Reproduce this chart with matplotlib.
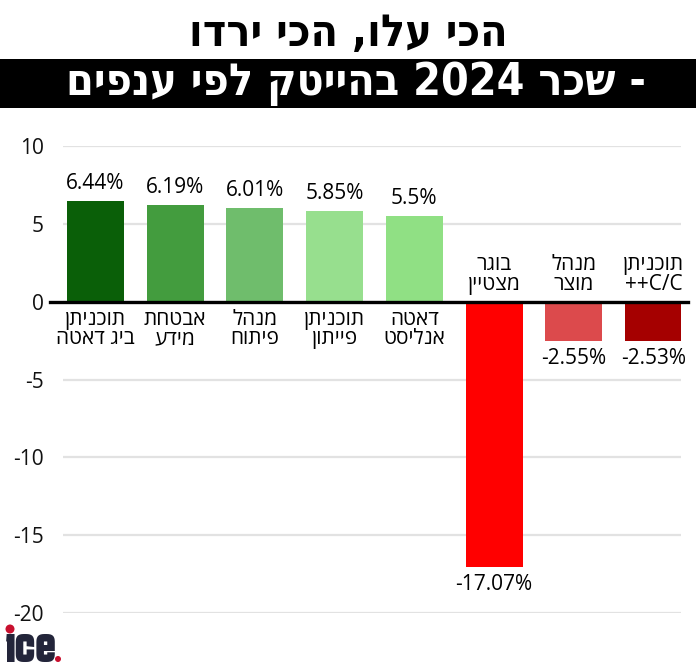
import re

import matplotlib
matplotlib.use("Agg")
import matplotlib.pyplot as plt
from matplotlib.patches import Circle, Rectangle

# data (logical Hebrew order, converted for display below)
categories = [
    "תוכניתן\nביג דאטה",
    "אבטחת\nמידע",
    "מנהל\nפיתוח",
    "תוכניתן\nפייתון",
    "דאטה\nאנליסט",
    "בוגר\nמצטיין",
    "מנהל\nמוצר",
    "תוכניתן\nC/C++",
]
values = [6.44, 6.19, 6.01, 5.85, 5.5, -17.07, -2.55, -2.53]
value_labels = ["6.44%", "6.19%", "6.01%", "5.85%", "5.5%", "-17.07%", "-2.55%", "-2.53%"]
bar_colors = ["#0a5f08", "#439c3e", "#6fbd6c", "#97df8e", "#90e084",
              "#ff0000", "#dc4a4c", "#a50000"]
yticks = [10, 5, 0, -5, -10, -15, -20]

title = "הכי עלו, הכי ירדו"
subtitle = "- שכר 2024 בהייטק לפי ענפים"

BODY = ["Open Sans", "DejaVu Sans"]


def rtl(s):
    """matplotlib has no bidi: reverse each line, keep latin/digit runs LTR."""
    out = []
    for line in s.split("\n"):
        r = line[::-1]
        r = re.sub(r"[A-Za-z0-9]+(?:[./][A-Za-z0-9]+)*", lambda m: m.group(0)[::-1], r)
        out.append(r)
    return "\n".join(out)


W, H = 696, 668
fig = plt.figure(figsize=(W / 100, H / 100), dpi=100)

# pixel overlay for header and logo
ov = fig.add_axes([0, 0, 1, 1])
ov.set_xlim(0, W)
ov.set_ylim(H, 0)
ov.axis("off")

ov.text(348, 34, rtl(title), ha="center", va="center", fontsize=32,
        fontweight="bold", fontstretch="condensed", family="DejaVu Sans", color="black")
ov.add_patch(Rectangle((0, 59), W, 49, color="black", lw=0))
ov.text(356, 84, rtl(subtitle), ha="center", va="center", fontsize=32,
        fontweight="bold", fontstretch="condensed", family="DejaVu Sans", color="white")

# ice. logo
ov.text(5, 662, "ıce", ha="left", va="baseline", fontsize=40, fontweight="bold",
        family=["Karantina", "DejaVu Sans"], color="#23253a")
ov.add_patch(Circle((10, 629), 4.5, color="#c8102e", lw=0))
ov.add_patch(Circle((58, 659), 3, color="#c8102e", lw=0))

# main chart
ax = fig.add_axes([63 / W, 55 / H, 618 / W, 467 / H])
ax.set_facecolor("none")
x = range(len(values))
ax.bar(x, values, width=0.715, color=bar_colors, zorder=2)

ax.set_ylim(-20, 10)
ax.set_xlim(-0.408, 7.345)
ax.set_yticks(yticks)
ax.set_yticklabels([str(t) for t in yticks], family=BODY, fontsize=15, color="#111111")
ax.tick_params(axis="y", length=0, pad=14)
ax.set_xticks([])
ax.yaxis.grid(True, color="#e2e2e2", linewidth=1.6, zorder=0)
ax.set_axisbelow(True)
for s in ax.spines.values():
    s.set_visible(False)

ax.axhline(0, xmin=-0.021, xmax=1.011, color="black", linewidth=2.4, clip_on=False, zorder=3)

for i, (v, lbl, cat) in enumerate(zip(values, value_labels, categories)):
    if v >= 0:
        ax.annotate(lbl, (i, v), xytext=(0, 5), textcoords="offset points",
                    ha="center", va="bottom", fontsize=15, family=BODY)
        ax.annotate(rtl(cat), (i, 0), xytext=(0, -5), textcoords="offset points",
                    ha="center", va="top", fontsize=15, family=BODY, linespacing=0.92)
    else:
        ax.annotate(lbl, (i, v), xytext=(0, -5), textcoords="offset points",
                    ha="center", va="top", fontsize=15, family=BODY)
        ax.annotate(rtl(cat), (i, 0), xytext=(0, 5), textcoords="offset points",
                    ha="center", va="bottom", fontsize=15, family=BODY, linespacing=0.92)

fig.savefig("out.png", dpi=100)
